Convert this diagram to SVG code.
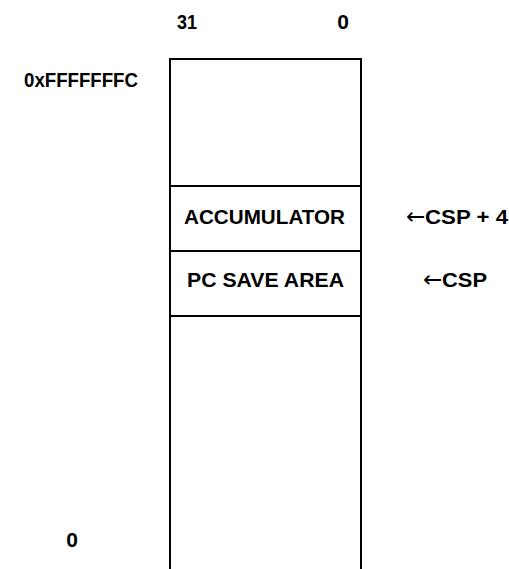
<svg xmlns="http://www.w3.org/2000/svg" width="509" height="569" viewBox="0 0 509 569">
<style>
text{font-family:"Liberation Sans",Arial,sans-serif;font-weight:bold;font-size:21px;fill:#000}
.ar{font-family:"DejaVu Sans",sans-serif;font-weight:normal;font-size:23px}
.ln{stroke:#000;stroke-width:2;fill:none}
</style>
<rect width="509" height="569" fill="#fff"/>
<g id="labels">
<text x="177" y="29" textLength="20" lengthAdjust="spacingAndGlyphs">31</text>
<text x="343" y="29" text-anchor="middle">0</text>
<text x="24" y="87" textLength="114" lengthAdjust="spacingAndGlyphs">0xFFFFFFFC</text>
<text x="72" y="547" text-anchor="middle">0</text>
</g>
<g id="stack">
<path class="ln" d="M170,569 V59 H361 V569"/>
</g>
<g id="accumulator">
<line class="ln" x1="170" y1="186" x2="361" y2="186"/>
<text x="184" y="224" textLength="161" lengthAdjust="spacingAndGlyphs">ACCUMULATOR</text>
</g>
<g id="pcsave">
<line class="ln" x1="170" y1="251" x2="361" y2="251"/>
<text x="187" y="287" textLength="157" lengthAdjust="spacingAndGlyphs">PC SAVE AREA</text>
<line class="ln" x1="170" y1="316" x2="361" y2="316"/>
</g>
<g id="pointers">
<text y="224"><tspan class="ar" x="406" y="224">←</tspan><tspan x="425" y="224" textLength="83" lengthAdjust="spacingAndGlyphs">CSP + 4</tspan></text>
<text y="287"><tspan class="ar" x="423" y="287">←</tspan><tspan x="442" y="287" textLength="45" lengthAdjust="spacingAndGlyphs">CSP</tspan></text>
</g>
</svg>
